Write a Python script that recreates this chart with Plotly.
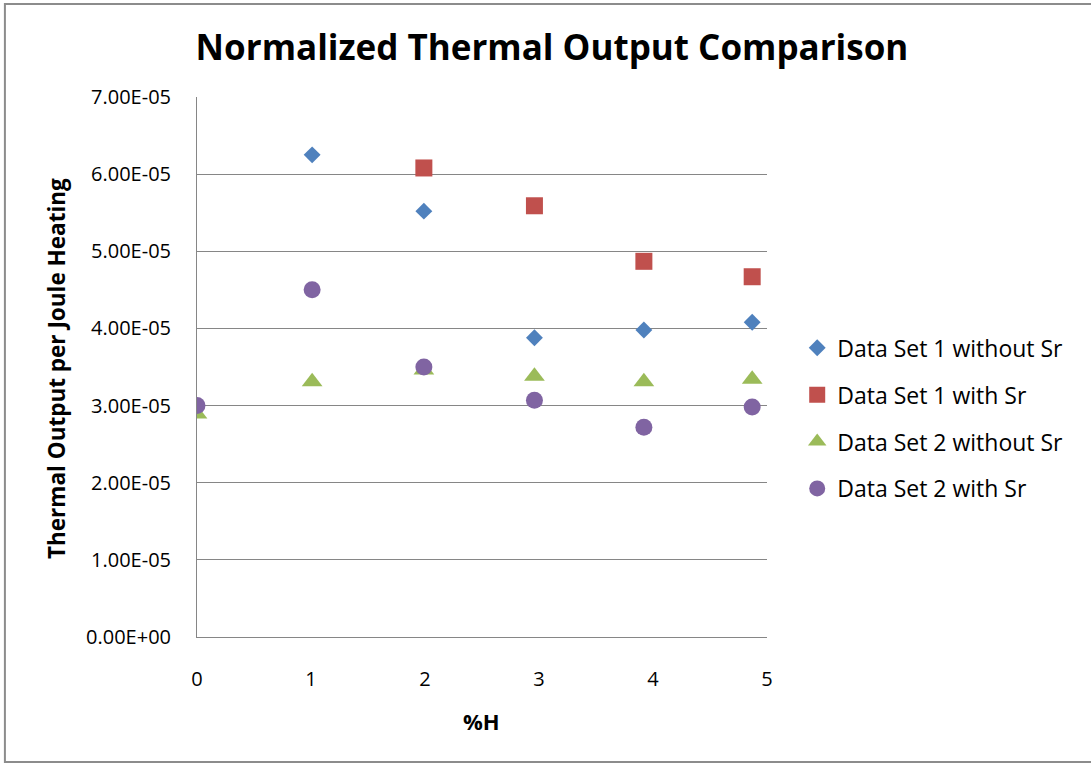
import plotly.graph_objects as go

# %H values
x_all = [0, 1.01, 1.99, 2.96, 3.92, 4.87]
x_set1_with = [1.99, 2.96, 3.92, 4.87]
x_set1_without = [1.01, 1.99, 2.96, 3.92, 4.87]

set1_without_sr = [6.25e-5, 5.52e-5, 3.88e-5, 3.98e-5, 4.08e-5]
set1_with_sr = [6.08e-5, 5.59e-5, 4.87e-5, 4.67e-5]
set2_without_sr = [2.89e-5, 3.31e-5, 3.46e-5, 3.38e-5, 3.31e-5, 3.34e-5]
set2_with_sr = [3.00e-5, 4.50e-5, 3.50e-5, 3.07e-5, 2.72e-5, 2.98e-5]

y_ticks = [0, 1e-5, 2e-5, 3e-5, 4e-5, 5e-5, 6e-5, 7e-5]
y_tick_labels = ["0.00E+00", "1.00E-05", "2.00E-05", "3.00E-05",
                 "4.00E-05", "5.00E-05", "6.00E-05", "7.00E-05"]
x_ticks = [0, 1, 2, 3, 4, 5]

FONT = "Open Sans"

fig = go.Figure()
fig.add_trace(go.Scatter(x=x_set1_without, y=set1_without_sr, mode="markers",
                         name="Data Set 1 without Sr", legendgroup="a",
                         marker=dict(symbol="diamond", size=13, color="#4F81BD")))
fig.add_trace(go.Scatter(x=x_set1_with, y=set1_with_sr, mode="markers",
                         name="Data Set 1 with Sr", legendgroup="b",
                         marker=dict(symbol="square", size=17, color="#C0504D")))
fig.add_trace(go.Scatter(x=x_all, y=set2_without_sr, mode="markers",
                         name="Data Set 2 without Sr", legendgroup="c",
                         marker=dict(symbol="triangle-up", size=18, color="#9BBB59")))
fig.add_trace(go.Scatter(x=x_all, y=set2_with_sr, mode="markers",
                         name="Data Set 2 with Sr", legendgroup="d",
                         marker=dict(symbol="circle", size=17, color="#8064A2")))

fig.update_layout(
    width=1091, height=763,
    margin=dict(l=197, r=324, t=97, b=126),
    paper_bgcolor="white", plot_bgcolor="white",
    font=dict(family=FONT, color="black", size=20),
    title=dict(text="<b>Normalized Thermal Output Comparison</b>",
               x=552 / 1091, xanchor="center", y=1 - 48 / 763, yanchor="middle",
               font=dict(size=35, family=FONT, color="black")),
    showlegend=True,
    legend=dict(x=1.053, y=0.405, xanchor="left", yanchor="middle",
                font=dict(size=23, family=FONT, color="black"),
                itemsizing="trace", tracegroupgap=14, bgcolor="rgba(0,0,0,0)"),
    shapes=[dict(type="rect", xref="paper", yref="paper",
                 x0=-0.337, x1=1.58, y0=-0.2315, y1=1.172,
                 line=dict(color="#8C8C8C", width=2), layer="below")],
    annotations=[
        dict(text="<b>Thermal Output per Joule Heating</b>", textangle=-90,
             xref="paper", yref="paper", x=(56 - 197) / 570, y=(637 - 369) / 540,
             xanchor="center", yanchor="middle", showarrow=False,
             font=dict(size=22.5, family=FONT, color="black")),
        dict(text="<b>%H</b>",
             xref="paper", yref="paper", x=(481 - 197) / 570, y=(637 - 721) / 540,
             xanchor="center", yanchor="middle", showarrow=False,
             font=dict(size=22, family=FONT, color="black")),
    ],
)

fig.update_xaxes(range=[0, 5], tickvals=x_ticks, showgrid=False,
                 showline=True, linecolor="#868686", linewidth=1,
                 zeroline=False, ticks="", ticklen=0,
                 tickfont=dict(size=20, family=FONT), ticklabelstandoff=24)
fig.update_yaxes(range=[0, 7e-5], tickvals=y_ticks, ticktext=y_tick_labels,
                 showgrid=True, gridcolor="#868686", gridwidth=1,
                 showline=True, linecolor="#868686", linewidth=1,
                 zeroline=False, ticks="",
                 tickfont=dict(size=20, family=FONT), ticklabelstandoff=21)

fig.write_html("out.html")
